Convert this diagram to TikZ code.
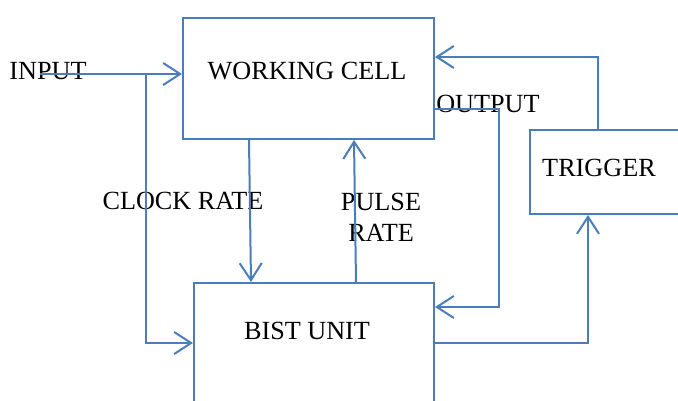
\documentclass[tikz,border=0pt]{standalone}
\usepackage{fontspec}
\setmainfont{Liberation Serif}
\usetikzlibrary{arrows.meta}
\definecolor{wordblue}{RGB}{74,126,187}

\begin{document}
\begin{tikzpicture}[
  x=1pt, y=-1pt,
  block/.style={
    draw=wordblue,
    line width=2pt,
    inner sep=0pt,
    anchor=north west
  },
  txt/.style={
    font=\fontsize{26.2}{31}\selectfont,
    inner sep=0pt,
    align=center
  },
  flow/.style={
    draw=wordblue,
    line width=2pt,
    -{Straight Barb[length=17pt,width=22pt,line width=2pt]}
  },
]
\useasboundingbox (0,0) rectangle (678,401);
\clip (0,0) rectangle (678,401);
% boxes
\node[block, minimum width=251pt, minimum height=121pt] (wc) at (182,17) {};
\node[block, minimum width=200pt, minimum height=84pt] (trig) at (529,129) {};
\node[block, minimum width=240pt, minimum height=160pt] (bist) at (193,282) {};
% texts
\node[txt] (wctxt) at (307,71) {WORKING CELL};
\node[txt] (trigtxt) at (599,168) {TRIGGER};
\node[txt] (bisttxt) at (307,331) {BIST UNIT};
\node[txt] (intxt) at (48,71) {INPUT};
\node[txt] (outtxt) at (488,104) {OUTPUT};
\node[txt] (clocktxt) at (183,201) {CLOCK RATE};
\node[txt] (pulsetxt) at (381,217) {PULSE\\RATE};
% connectors
\coordinate (in) at (40,74);
\coordinate (split) at (146,74);
\draw[flow] (in) -- (in -| wc.west);
\draw[flow] (split) |- ([yshift=-61pt]bist.north west);
\draw[flow] ([xshift=67pt]wc.south west) -- ([xshift=58pt]bist.north west);
\draw[flow] ([xshift=163pt]bist.north west) -- ([xshift=172pt]wc.south west);
\draw[flow] ([yshift=-31pt]wc.east) -- ++(64,0) |- ([yshift=-25pt]bist.north east);
\draw[flow] ([xshift=69pt]trig.north west) |- ([yshift=-40pt]wc.north east);
\draw[flow] ([yshift=-61pt]bist.north east) -| ([xshift=59pt]trig.south west);
\end{tikzpicture}
\end{document}
